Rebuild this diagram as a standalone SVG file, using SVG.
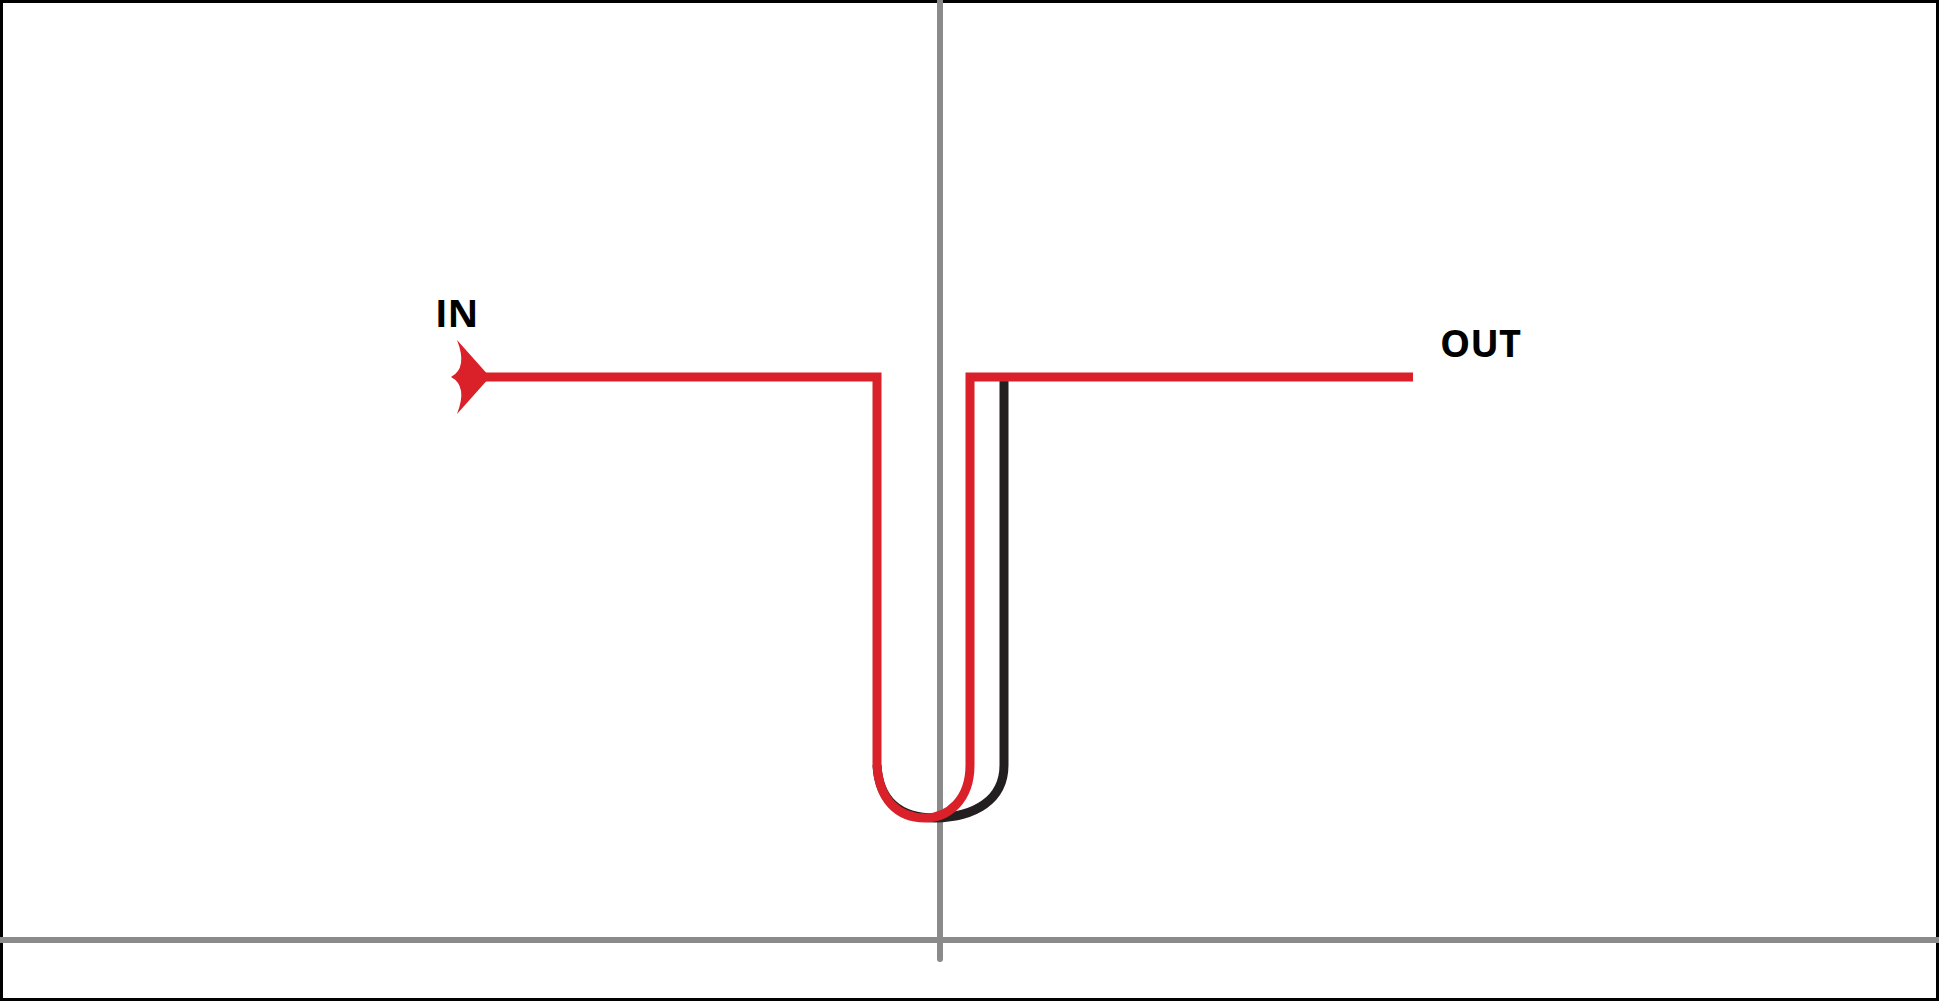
<svg xmlns="http://www.w3.org/2000/svg" width="1939" height="1001" viewBox="0 0 1939 1001">
<style>
.axis{stroke:#8a8a8a;stroke-width:6;fill:none;stroke-linecap:round}
.red{stroke:#da2028;stroke-width:9;fill:none;stroke-linejoin:miter}
.blk{stroke:#231f20;stroke-width:9;fill:none}
.lbl{font-family:"Open Sans","Liberation Sans",sans-serif;font-weight:bold;font-size:38px;fill:#000}
</style>
<rect x="1.5" y="1.5" width="1936" height="998" fill="#fff" stroke="#000" stroke-width="3"/>
<g id="axes">
<line class="axis" x1="940" y1="0" x2="940" y2="959"/>
<line class="axis" x1="0" y1="940" x2="1939" y2="940" stroke-linecap="butt"/>
</g>
<g id="connectors">
<path class="blk" d="M1004,380 L1004,765 C1004,800 975,817 935,818 C905,818 879,805 877,765"/>
<path class="red" d="M462,377 L877,377 L877,765 C879,800 898,818 925,818 C948,818 970,800 970,765 L970,377 L1413,377"/>
<path d="M457,340 L490,377 L457,414 Q468,386 451,377 Q468,368 457,340 Z" fill="#da2028"/>
</g>
<g id="label-in"><text class="lbl" x="435" y="327">IN</text></g>
<g id="label-out"><text class="lbl" x="1440" y="357">OUT</text></g>
</svg>
